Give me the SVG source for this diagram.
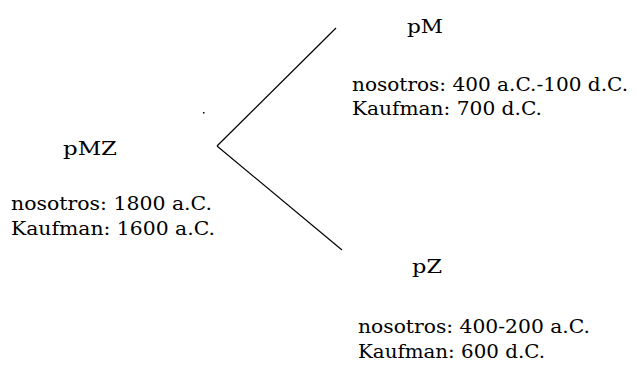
<svg xmlns="http://www.w3.org/2000/svg" width="637" height="365" viewBox="0 0 637 365">
<style>
text{font-family:"DejaVu Serif","Liberation Serif",serif;font-size:18px;fill:#000}
.l{stroke:#000;stroke-width:1.2;fill:none}
</style>
<rect width="637" height="365" fill="#fff"/>
<g id="connectors">
<line class="l" x1="217" y1="146" x2="336" y2="28"/>
<line class="l" x1="217" y1="146" x2="342" y2="250"/>
<rect x="203" y="112" width="1.5" height="1.5" fill="#000"/>
</g>
<g id="pMZ">
<text x="63" y="155" textLength="54" lengthAdjust="spacingAndGlyphs">pMZ</text>
<text x="11" y="210" textLength="201" lengthAdjust="spacingAndGlyphs">nosotros: 1800 a.C.</text>
<text x="11" y="235" textLength="204" lengthAdjust="spacingAndGlyphs">Kaufman: 1600 a.C.</text>
</g>
<g id="pM">
<text x="407" y="33" textLength="36" lengthAdjust="spacingAndGlyphs">pM</text>
<text x="352" y="91" textLength="276" lengthAdjust="spacingAndGlyphs">nosotros: 400 a.C.-100 d.C.</text>
<text x="352" y="115" textLength="190" lengthAdjust="spacingAndGlyphs">Kaufman: 700 d.C.</text>
</g>
<g id="pZ">
<text x="412" y="273" textLength="30" lengthAdjust="spacingAndGlyphs">pZ</text>
<text x="358" y="333" textLength="232" lengthAdjust="spacingAndGlyphs">nosotros: 400-200 a.C.</text>
<text x="358" y="358" textLength="187" lengthAdjust="spacingAndGlyphs">Kaufman: 600 d.C.</text>
</g>
</svg>
